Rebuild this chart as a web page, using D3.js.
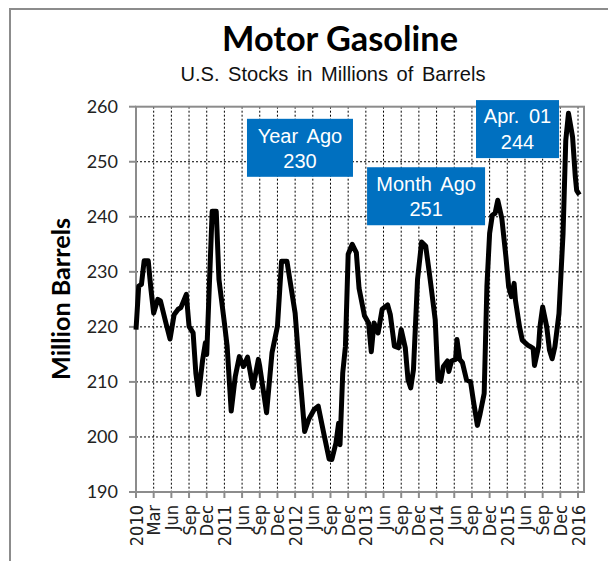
<!DOCTYPE html>
<html lang="en">
<head>
<meta charset="utf-8">
<title>Motor Gasoline</title>
<script src="https://cdnjs.cloudflare.com/ajax/libs/d3/7.8.5/d3.min.js"></script>
<style>
    body { margin: 0; background: #fff; }
    .grid line { stroke: #000; stroke-width: 1; stroke-dasharray: 2,2; }
    .frame { fill: none; stroke: #8c8c8c; stroke-width: 2; }
    .tick { stroke: #8c8c8c; stroke-width: 2; }
    .ylab { font-family: Lato, "Open Sans", sans-serif; font-size: 18px; fill: #222; }
    .xlab { font-family: "DejaVu Sans Condensed", "DejaVu Sans", sans-serif; font-stretch: condensed; font-size: 18px; fill: #222; }
    .note text { font-family: "Liberation Sans", Arial, sans-serif; font-size: 20px; fill: #fff; word-spacing: 4px; }
</style>
</head>
<body>
<svg width="608" height="561"></svg>
<script>
// weekly stocks, week 0 = first week of Jan 2010
const weeks = [
    0, 2, 4, 6, 9, 11, 13, 16, 18, 22,
    25, 28, 31, 33, 37, 39, 42, 44, 46, 49,
    51, 52, 56, 59, 61, 65, 67, 70, 73, 76,
    79, 82, 86, 90, 91, 96, 100, 104, 107, 111,
    117, 120, 124, 127, 131, 134, 138, 142, 144, 147,
    149, 150, 152, 154, 156, 159, 162, 164, 168, 171,
    173, 175, 178, 181, 185, 187, 190, 193, 195, 198,
    200, 202, 204, 207, 210, 213, 216, 220, 222, 224,
    226, 229, 230, 232, 235, 236, 238, 240, 243, 246,
    248, 251, 253, 256, 258, 260, 262, 264, 266, 269,
    272, 274, 276, 278, 279, 282, 284, 288, 290, 292,
    293, 296, 297, 299, 302, 304, 306, 308, 311, 314,
    316, 318, 321, 323, 324, 326
];
const stocks = [
    219.5, 227.4, 227.7, 232, 232, 226.8, 222.5, 225, 224.7, 220.7,
    217.8, 222.2, 223.2, 223.5, 225.9, 220.1, 218.9, 211.6, 207.7, 214,
    217.1, 215, 241, 241, 228.6, 220.7, 216.5, 204.7, 211, 214.6,
    212.8, 214.5, 209, 214.1, 212.8, 204.4, 215.3, 220.1, 231.9, 231.9,
    222.5, 212.8, 201, 203.2, 205, 205.6, 200.7, 196, 195.9, 198.9,
    202.5, 198.6, 211.6, 216.5, 233.2, 235, 233.5, 227, 222, 220.7,
    215.5, 220.7, 218.9, 223.2, 224, 222.2, 216.5, 216.2, 219.5, 216.2,
    210.4, 208.9, 212.2, 228.6, 235.4, 234.7, 229.2, 221.3, 210.4, 210.1,
    212.8, 213.8, 211.9, 213.8, 214.1, 217.7, 214.1, 213.5, 210.4, 210,
    206.7, 202.1, 204.2, 207.9, 227.3, 237, 240.3, 240.6, 243, 239.7,
    232.7, 227.3, 225.5, 227.9, 224.8, 220, 217.6, 216.7, 216.4, 216.1,
    213, 216.4, 220, 223.6, 220, 215.8, 214.2, 216.4, 222.4, 237,
    253.9, 258.8, 254.5, 247.3, 244.8, 244
];

// one label every 13 weeks
const tickLabels = [
    "2010", "Mar", "Jun", "Sep", "Dec",
    "2011", "Jun", "Sep", "Dec",
    "2012", "Jun", "Sep", "Dec",
    "2013", "Jun", "Sep", "Dec",
    "2014", "Jun", "Sep", "Dec",
    "2015", "Jun", "Sep", "Dec",
    "2016"
];
const yTicks = [190, 200, 210, 220, 230, 240, 250, 260];

const noteTitles = ["Year Ago", "Month Ago", "Apr. 01"];
const noteValues = [230, 251, 244];

const svg = d3.select("svg");
const plotL = 136, plotR = 584, plotT = 106.7, plotB = 492;

const x = d3.scaleLinear().domain([0, 329.4]).range([plotL, plotR]);
const y = d3.scaleLinear().domain([190, 260]).range([plotB, plotT]);

function fitWidth(sel, w) {
    const len = sel.node().getComputedTextLength();
    const fs = parseFloat(sel.style("font-size"));
    sel.style("font-size", (fs * w / len) + "px");
}

// outer chart border (only left and top are visible)
svg.append("rect")
    .attr("class", "frame")
    .attr("x", 10).attr("y", 9)
    .attr("width", 700).attr("height", 700);

// titles
const title = svg.append("text")
    .attr("x", 340).attr("y", 51)
    .attr("text-anchor", "middle")
    .style("font-family", "Lato, 'Open Sans', sans-serif")
    .style("font-weight", "bold")
    .style("font-size", "30px")
    .text("Motor Gasoline");
fitWidth(title, 236);

const sub = svg.append("text")
    .attr("x", 333).attr("y", 81)
    .attr("text-anchor", "middle")
    .style("font-family", "'Liberation Sans', Arial, sans-serif")
    .style("font-size", "17px")
    .style("word-spacing", "3px")
    .style("fill", "#111")
    .text("U.S. Stocks in Millions of Barrels");
fitWidth(sub, 308);

const yTitle = svg.append("text")
    .attr("transform", "translate(70,299) rotate(-90)")
    .attr("text-anchor", "middle")
    .style("font-family", "Lato, 'Open Sans', sans-serif")
    .style("font-weight", "bold")
    .style("font-size", "20px")
    .text("Million Barrels");
fitWidth(yTitle, 162);

// grid
const tickIdx = d3.range(tickLabels.length);
const grid = svg.append("g").attr("class", "grid");
grid.selectAll(".v")
    .data(tickIdx.slice(1))
    .enter().append("line")
    .attr("x1", d => x(d * 13)).attr("x2", d => x(d * 13))
    .attr("y1", plotT).attr("y2", plotB);
grid.selectAll(".h")
    .data(yTicks.slice(1, -1))
    .enter().append("line")
    .attr("x1", plotL).attr("x2", plotR)
    .attr("y1", d => y(d)).attr("y2", d => y(d));

// ticks + labels
svg.append("g").selectAll("line")
    .data(yTicks)
    .enter().append("line")
    .attr("class", "tick")
    .attr("x1", plotL - 7).attr("x2", plotL)
    .attr("y1", d => y(d)).attr("y2", d => y(d));

svg.append("g").selectAll("text")
    .data(yTicks)
    .enter().append("text")
    .attr("class", "ylab")
    .attr("x", 118)
    .attr("y", d => y(d))
    .attr("dy", "0.36em")
    .attr("text-anchor", "end")
    .text(d => d);

svg.append("g").selectAll("line")
    .data(tickIdx)
    .enter().append("line")
    .attr("class", "tick")
    .attr("x1", d => x(d * 13)).attr("x2", d => x(d * 13))
    .attr("y1", plotB).attr("y2", plotB + 6);

svg.append("g").selectAll("text")
    .data(tickIdx)
    .enter().append("text")
    .attr("class", "xlab")
    .attr("text-anchor", "end")
    .attr("transform", d => `translate(${x(d * 13) + 6.5},505) rotate(-90)`)
    .text(d => tickLabels[d]);

// plot frame
svg.append("rect")
    .attr("class", "frame")
    .attr("x", plotL).attr("y", plotT)
    .attr("width", plotR - plotL).attr("height", plotB - plotT);

// the series
const series = weeks.map((w, i) => ({ w: w, v: stocks[i] }));
svg.append("path")
    .datum(series)
    .attr("fill", "none")
    .attr("stroke", "#000")
    .attr("stroke-width", 5)
    .attr("stroke-linejoin", "round")
    .attr("d", d3.line().x(d => x(d.w)).y(d => y(d.v)));

// callout boxes, anchored in data space (top-left corner)
const notePos = [
    { w: 81.6, v: 257.8, bw: 106 },
    { w: 169.9, v: 249.0, bw: 118 },
    { w: 250.0, v: 261.2, bw: 83 }
];
const note = svg.append("g").selectAll("g")
    .data(noteTitles)
    .enter().append("g")
    .attr("class", "note")
    .attr("transform", (d, i) => `translate(${x(notePos[i].w)},${y(notePos[i].v)})`);

note.append("rect")
    .attr("width", (d, i) => notePos[i].bw)
    .attr("height", 58)
    .attr("fill", "#0070c0");
note.append("text")
    .attr("x", (d, i) => notePos[i].bw / 2)
    .attr("y", (d, i) => i === 2 ? 23 : 24)
    .attr("text-anchor", "middle")
    .text(d => d);
note.append("text")
    .attr("x", (d, i) => notePos[i].bw / 2)
    .attr("y", 49)
    .attr("text-anchor", "middle")
    .text((d, i) => noteValues[i]);
</script>
</body>
</html>
